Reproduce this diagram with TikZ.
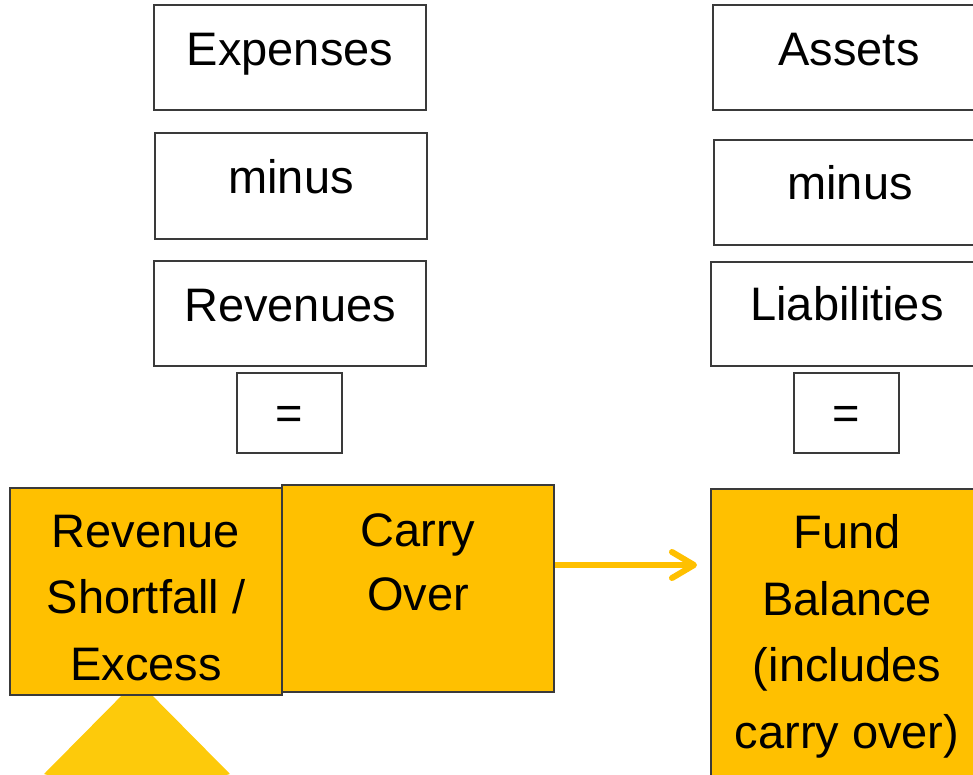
\documentclass[tikz,border=0pt]{standalone}
\usepackage{fontspec}
\setmainfont{Liberation Sans}
\usetikzlibrary{arrows.meta}
\definecolor{gold}{HTML}{FFC000}
\definecolor{tri}{HTML}{FDCA0B}
\definecolor{edge}{HTML}{3A3A3A}
\tikzset{
  box/.style={draw=edge, line width=1.3pt, fill=white},
  obox/.style={draw=edge, line width=1.3pt, fill=gold},
  txt/.style={inner sep=0pt, align=center, anchor=base, font=\fontsize{47}{66.5}\selectfont},
  flow/.style={draw=gold, line width=6pt, -{Straight Barb[length=22pt, width=26pt, line cap=round, line join=round]}}
}
\begin{document}
\begin{tikzpicture}[x=1pt, y=-1pt]
\useasboundingbox (0,0) rectangle (973,774);
\clip (0,0) rectangle (973,774);
% triangle behind
\fill[tri] (137,680) -- (44,774) -- (137,800) -- (230,774) -- cycle;
% left column
\draw[box] (154,5) rectangle (426,110);
\node[txt] (exp) at (290,65) {Expenses};
\draw[box] (155,133) rectangle (427,239);
\node[txt] (min1) at (291,193) {minus};
\draw[box] (154,261) rectangle (426,366);
\node[txt] (rev) at (290,321) {Revenues};
\draw[box] (237,373) rectangle (342,453);
\node[txt] (eq1) at (289.5,429) {=};
% orange boxes
\draw[obox] (282,485) rectangle (554,692);
\node[txt, font=\fontsize{47}{63.5}\selectfont] (carry) at (418,610) {Carry\\Over};
\draw[obox] (10,488) rectangle (282,695);
\node[txt] (short) at (146,680) {Revenue\\Shortfall /\\Excess};
% right column
\draw[box] (713,5) rectangle (985,110);
\node[txt] (ast) at (849,65) {Assets};
\draw[box] (714,140) rectangle (985,245);
\node[txt] (min2) at (850,199) {minus};
\draw[box] (711,262) rectangle (985,366);
\node[txt] (lia) at (847,320) {Liabilities};
\draw[box] (794,373) rectangle (899,453);
\node[txt] (eq2) at (846.5,429) {=};
\draw[obox] (711,489) rectangle (990,800);
\node[txt] (fund) at (847,748) {Fund\\Balance\\(includes\\carry over)};
% arrow
\coordinate (aS) at (555,565);
\coordinate (aE) at (697,565);
\draw[flow] (aS) -- (aE);
\end{tikzpicture}
\end{document}
